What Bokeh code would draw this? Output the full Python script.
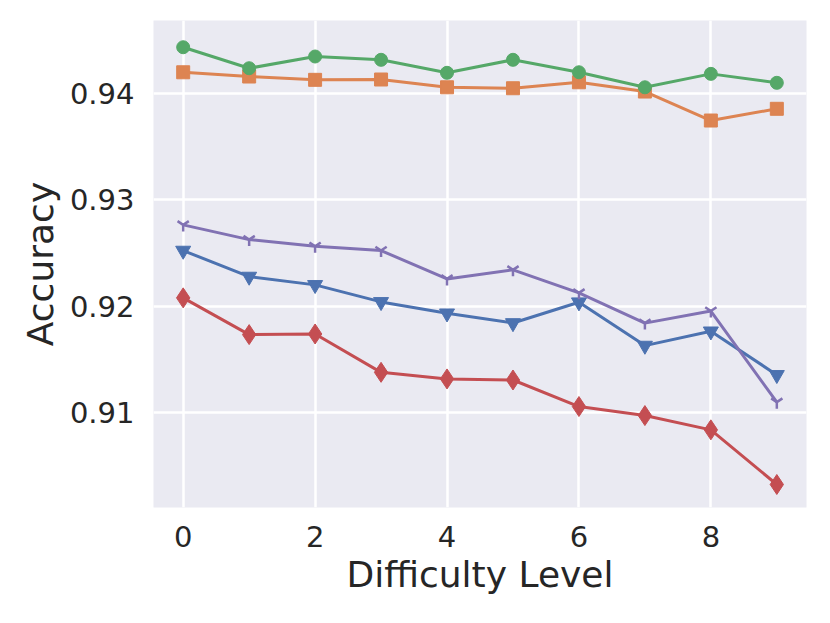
from bokeh.plotting import figure
from bokeh.models import FixedTicker, Range1d
from bokeh.embed import file_html
from bokeh.resources import INLINE

levels = [0, 1, 2, 3, 4, 5, 6, 7, 8, 9]
blue_vals = [0.92523, 0.92279, 0.92201, 0.92041, 0.91934, 0.91843, 0.92038, 0.91631, 0.91765, 0.91356]
orange_vals = [0.94197, 0.94157, 0.94126, 0.94129, 0.94056, 0.94047, 0.94103, 0.94016, 0.93744, 0.93854]
green_vals = [0.94432, 0.94235, 0.94345, 0.94314, 0.94192, 0.94314, 0.94197, 0.94056, 0.94182, 0.94098]
red_vals = [0.92079, 0.91734, 0.91740, 0.91380, 0.91318, 0.91308, 0.91059, 0.90974, 0.90840, 0.90327]
purple_vals = [0.92764, 0.92626, 0.92563, 0.92523, 0.92257, 0.92342, 0.92126, 0.91842, 0.91955, 0.91100]

x_ticks = [0, 2, 4, 6, 8]
y_ticks = [0.91, 0.92, 0.93, 0.94]

series = [
    (blue_vals, "#4C72B0", "inverted_triangle", 15),
    (orange_vals, "#DD8452", "square", 13),
    (green_vals, "#55A868", "circle", 13),
    (red_vals, "#C44E52", "diamond", 20),
    (purple_vals, "#8172B3", "y", 13),
]

p = figure(width=814, height=607, output_backend="svg", toolbar_location=None,
           x_range=Range1d(-0.45, 9.45), y_range=Range1d(0.90111, 0.94683),
           min_border_left=153, min_border_right=8, min_border_top=20, min_border_bottom=100)

p.background_fill_color = "#EAEAF2"
p.border_fill_color = "white"
p.outline_line_color = None

for ax in (p.xaxis[0], p.yaxis[0]):
    ax.axis_line_color = None
    ax.major_tick_line_color = None
    ax.minor_tick_line_color = None
    ax.major_tick_out = 0
    ax.major_tick_in = 0
    ax.major_label_text_font = "DejaVu Sans"
    ax.major_label_text_font_size = "29px"
    ax.major_label_text_color = "#262626"
    ax.axis_label_text_font = "DejaVu Sans"
    ax.axis_label_text_font_size = "36px"
    ax.axis_label_text_color = "#262626"
    ax.axis_label_text_font_style = "normal"

p.xaxis.ticker = FixedTicker(ticks=x_ticks)
p.yaxis.ticker = FixedTicker(ticks=y_ticks)
p.yaxis.major_label_overrides = {t: f"{t:.2f}" for t in y_ticks}
p.xaxis.axis_label = "Difficulty Level"
p.yaxis.axis_label = "Accuracy"
p.xaxis.major_label_standoff = 18
p.yaxis.major_label_standoff = 19
p.xaxis.axis_label_standoff = 4
p.yaxis.axis_label_standoff = 6

p.grid.grid_line_color = "white"
p.grid.grid_line_width = 2.5

for vals, color, marker, size in series:
    p.line(levels, vals, line_color=color, line_width=3)
    if marker == "y":
        p.scatter(levels, vals, marker=marker, size=size, line_color=color, line_width=2.5)
    else:
        p.scatter(levels, vals, marker=marker, size=size, fill_color=color, line_color=color, line_width=1)

open("out.html", "w").write(file_html(p, INLINE))
